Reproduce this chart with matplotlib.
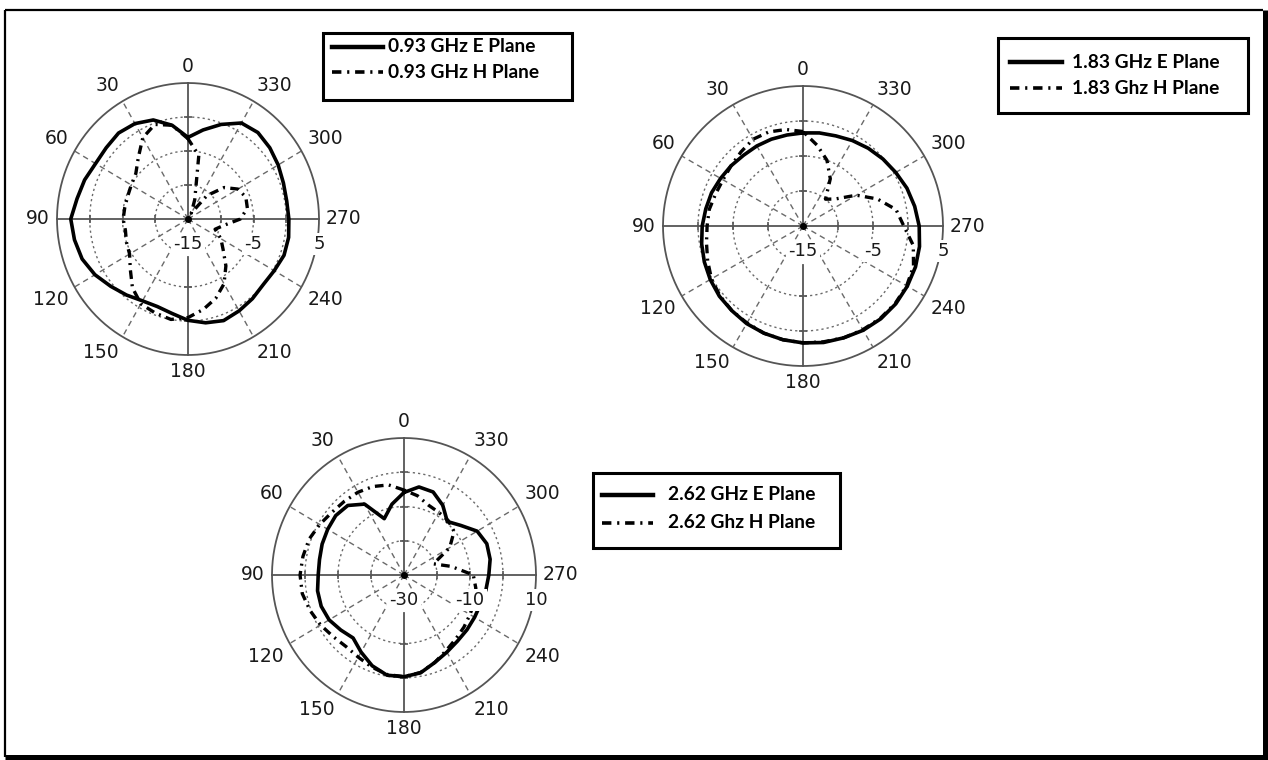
import numpy as np
import matplotlib
matplotlib.use("Agg")
import matplotlib.pyplot as plt
from matplotlib.lines import Line2D
from matplotlib.patches import Rectangle

W, H = 1268, 760

# angles in degrees (0 at top, counter-clockwise), gains in dB
ang = list(range(0, 360, 10))

e_093 = [-3.0, -1.0, 0.5, 1.2, 1.5, 1.3, 1.3, 1.8, 2.2, 2.9,
         2.6, 2.2, 1.4, 0.4, -0.4, -1.1, -1.3, -0.9, -0.1, 0.5,
         0.9, 0.6, 0.3, 0.0, 0.2, 0.6, 0.6, 0.4, 0.3, 0.5,
         0.9, 1.3, 1.6, 1.3, -0.2, -1.7]
h_093 = [-3.2, -1.0, -0.2, -1.2, -3.2, -4.6, -5.0, -5.2, -5.2, -5.1,
         -5.3, -5.0, -4.7, -3.5, -1.8, -0.6, -0.3, 0.0, -0.5, -1.5,
         -2.6, -4.0, -6.0, -8.0, -9.2, -10.6, -9.5, -7.0, -5.8, -5.6,
         -6.2, -7.8, -10.5, -14.0, -12.0, -5.5]

e_183 = [-1.7, -1.8, -1.8, -1.8, -1.8, -1.6, -1.4, -1.1, -0.9, -0.6,
         -0.3, 0.0, 0.3, 0.6, 0.8, 1.1, 1.3, 1.5, 1.7, 1.9,
         2.0, 2.2, 2.3, 2.3, 2.2, 2.1, 1.9, 1.6, 1.2, 0.8,
         0.3, -0.1, -0.5, -0.9, -1.3, -1.5]
h_183 = [-1.5, -1.0, -0.7, -0.7, -1.2, -1.6, -1.8, -1.7, -1.4, -1.3,
         -1.0, -0.5, 0.1, 0.5, 0.8, 1.0, 1.3, 1.5, 1.7, 1.8,
         2.0, 2.1, 2.2, 2.2, 2.1, 1.8, 1.0, -0.6, -1.5, -3.7,
         -6.2, -9.0, -10.0, -7.2, -5.0, -3.3]

e_262 = [-5.9, -9.0, -12.5, -6.1, -3.5, -3.0, -3.3, -3.6, -4.0, -4.0,
         -3.4, -3.3, -3.8, -5.0, -6.0, -4.0, -1.8, -0.3, -0.3, -1.0,
         -2.8, -4.0, -4.8, -5.1, -5.3, -5.3, -4.8, -4.3, -3.5, -3.3,
         -4.4, -7.5, -9.6, -6.5, -4.2, -3.9]
h_262 = [-5.2, -3.3, -2.5, -2.1, -1.9, -1.5, -0.5, 0.6, 1.1, 1.5,
         1.3, 0.3, -0.8, -2.0, -2.7, -2.3, -1.4, -0.5, -0.3, -1.1,
         -2.8, -4.5, -5.6, -6.3, -6.9, -7.3, -7.9, -9.0, -15.5, -20.5,
         -14.0, -10.2, -9.2, -8.9, -8.3, -6.5]

labels_093 = ["0.93 GHz E Plane", "0.93 GHz H Plane"]
labels_183 = ["1.83 GHz E Plane", "1.83 Ghz H Plane"]
labels_262 = ["2.62 GHz E Plane", "2.62 Ghz H Plane"]

DASHDOT = (0, (2.6, 1.6, 0.6, 1.6))
GRID = "#6a6a6a"
TXT = "#1a1a1a"

fig = plt.figure(figsize=(W / 100, H / 100), dpi=100)
fig.patch.set_facecolor("white")


def px_axes(cx, cy, rx, ry):
    return fig.add_axes([(cx - rx) / W, 1 - (cy + ry) / H, 2 * rx / W, 2 * ry / H],
                        projection="polar")


def polar_frame(ax, rmin, rmax, step, rlabels):
    ax.set_theta_zero_location("N")
    ax.set_theta_direction(1)
    ax.set_ylim(rmin, rmax)
    ax.set_aspect("auto")
    ax.grid(False)
    ax.set_xticks([])
    ax.set_yticks([])
    ax.spines["polar"].set_visible(False)
    th = np.linspace(0, 2 * np.pi, 400)
    ax.plot(th, np.full_like(th, rmax), color="#555555", lw=1.3, clip_on=False)
    rings = np.arange(rmin + step, rmax, step, dtype=float)
    for r in rings:
        ax.plot(th, np.full_like(th, r), color=GRID, lw=1.0, ls=(0, (1.6, 2.2)),
                clip_on=False)
    for a in range(0, 360, 30):
        t = np.deg2rad(a)
        if a % 90:
            ax.plot([t, t], [rmin, rmax], color=GRID, lw=1.0, ls=(0, (4, 3)),
                    clip_on=False)
    # solid cross, lower half starts below the radial labels
    gap = rmin + 0.28 * (rmax - rmin)
    for a, r0 in [(0, rmin), (90, rmin), (270, rmin), (180, gap)]:
        t = np.deg2rad(a)
        ax.plot([t, t], [r0, rmax], color="#555555", lw=1.3, clip_on=False)
    for a, mk in [(90, "|"), (270, "|"), (0, "_"), (180, "_")]:
        t = np.deg2rad(a)
        rr = rings if a != 180 else rings[rings > gap]
        ax.plot(np.full(len(rr), t), rr, ls="none", marker=mk, ms=6, mew=1.2,
                color="#555555", clip_on=False)
    ax.plot([0], [rmin], marker="o", ms=4, color="black", clip_on=False)
    for a in range(0, 360, 30):
        t = np.deg2rad(a)
        dx, dy = -np.sin(t), np.cos(t)
        ha = "right" if dx < -0.1 else ("left" if dx > 0.1 else "center")
        va = "bottom" if dy > 0.1 else ("top" if dy < -0.1 else "center")
        ax.annotate(str(a), xy=(t, rmax), xytext=(dx * 5, dy * 5),
                    textcoords="offset points", ha=ha, va=va,
                    fontsize=13.5, color=TXT, annotation_clip=False)
    for r in rlabels:
        ax.annotate(str(r), xy=(np.deg2rad(270), r), xytext=(0, -18),
                    textcoords="offset points", ha="center", va="center",
                    fontsize=13, color=TXT, annotation_clip=False,
                    bbox=dict(fc="white", ec="none", boxstyle="square,pad=0.12"))


def pattern(ax, e, h):
    t = np.deg2rad(ang + [360])
    ax.plot(t, e + [e[0]], color="black", lw=2.6, clip_on=False)
    ax.plot(t, h + [h[0]], color="black", lw=2.4, ls=DASHDOT, clip_on=False)


def legend_box(x0, y0, x1, y1, rows, labels, lx0, lx1, tx):
    fig.add_artist(Rectangle((x0 / W, 1 - y1 / H), (x1 - x0) / W, (y1 - y0) / H,
                             transform=fig.transFigure, fill=False,
                             ec="black", lw=2.2))
    styles = ["-", DASHDOT]
    for y, lab, ls in zip(rows, labels, styles):
        fig.add_artist(Line2D([lx0 / W, lx1 / W], [1 - y / H, 1 - y / H],
                              transform=fig.transFigure, color="black",
                              lw=3.2 if ls == "-" else 2.6, ls=ls))
        fig.text(tx / W, 1 - y / H, lab, fontsize=13.8, fontweight="bold",
                 family="Lato", color="black", va="center", ha="left")


ax1 = px_axes(188, 219, 131, 136)
polar_frame(ax1, -15, 5, 5, [-15, -5, 5])
pattern(ax1, e_093, h_093)

ax2 = px_axes(803, 226, 140, 140)
polar_frame(ax2, -15, 5, 5, [-15, -5, 5])
pattern(ax2, e_183, h_183)

ax3 = px_axes(404, 575, 132, 137)
polar_frame(ax3, -30, 10, 10, [-30, -10, 10])
pattern(ax3, e_262, h_262)

legend_box(323, 33, 572, 100, [47, 72], labels_093, 332, 383, 388)
legend_box(998, 38, 1248, 113, [62, 88], labels_183, 1010, 1062, 1072)
legend_box(593, 473, 840, 548, [495, 523], labels_262, 602, 653, 668)

# page frame with a heavier right/bottom edge
def fline(xs, ys, lw):
    fig.add_artist(Line2D([x / W for x in xs], [1 - y / H for y in ys],
                          transform=fig.transFigure, color="black", lw=lw,
                          solid_capstyle="butt"))

fline([5, 1263], [10, 10], 1.6)
fline([5, 5], [10, 757], 1.6)
fline([1265, 1265], [10, 760], 3.6)
fline([5, 1268], [757, 757], 3.6)

fig.savefig("out.png", dpi=100, facecolor="white")
